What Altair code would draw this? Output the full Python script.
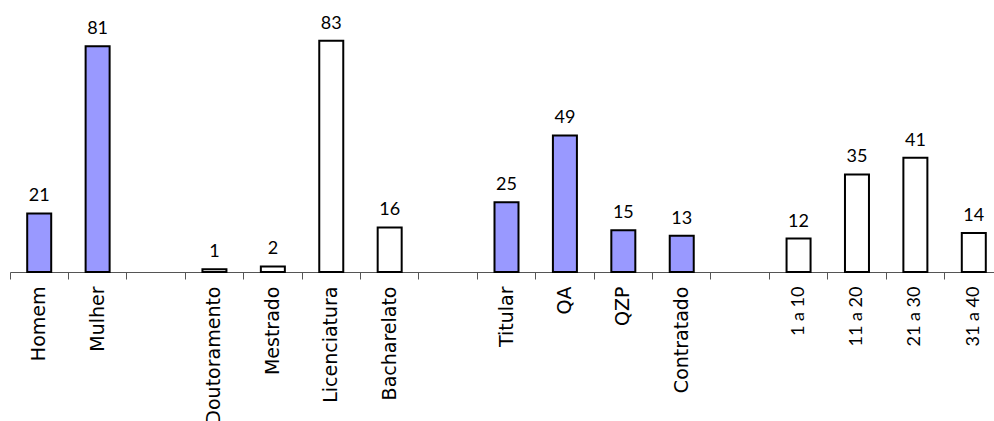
import altair as alt
import pandas as pd

# slot order (gaps are blank categories)
domain = ["Homem", "Mulher", " ", "Doutoramento", "Mestrado", "Licenciatura", "Bacharelato",
          "  ", "Titular", "QA", "QZP", "Contratado", "   ",
          "1 a 10", "11 a 20", "21 a 30", "31 a 40"]

categories = ["Homem", "Mulher", "Doutoramento", "Mestrado", "Licenciatura", "Bacharelato",
              "Titular", "QA", "QZP", "Contratado", "1 a 10", "11 a 20", "21 a 30", "31 a 40"]
values = [21, 81, 1, 2, 83, 16, 25, 49, 15, 13, 12, 35, 41, 14]
groups = ["blue", "blue", "white", "white", "white", "white",
          "blue", "blue", "blue", "blue", "white", "white", "white", "white"]

df = pd.DataFrame({"cat": categories, "value": values, "group": groups})

num_test = "indexof(['1 a 10','11 a 20','21 a 30','31 a 40'], datum.value) >= 0"

xscale = alt.Scale(domain=domain, range=[0, 993], paddingInner=0, paddingOuter=0)
yscale = alt.Scale(domain=[0, 94])

bars = alt.Chart(df).mark_bar(width=24, stroke="black", strokeWidth=2).encode(
    x=alt.X("cat:N", sort=domain, scale=xscale,
            axis=alt.Axis(title=None, labels=False, bandPosition=0, tickSize=7,
                          domainColor="#555555", tickColor="#555555", domainWidth=1,
                          tickWidth=1, orient="bottom", grid=False)),
    y=alt.Y("value:Q", scale=yscale, axis=None),
    fill=alt.Fill("group:N", scale=alt.Scale(domain=["blue", "white"],
                                             range=["#9999FF", "#FFFFFF"]), legend=None),
)

text = alt.Chart(df).mark_text(baseline="alphabetic", dy=-12, font="Lato", fontSize=18,
                               color="black").encode(
    x=alt.X("cat:N", sort=domain, scale=xscale,
            axis=alt.Axis(title=None, labelAngle=-90, ticks=False, domain=False,
                          labelPadding=14, orient="bottom", grid=False,
                          labelColor="black",
                          labelFont=alt.expr(f"{num_test} ? 'Lato' : 'DejaVu Sans'"),
                          labelFontSize=alt.expr(f"{num_test} ? 18 : 19"),
                          labelLimit=300)),
    y=alt.Y("value:Q", scale=yscale, axis=None),
    text=alt.Text("value:Q"),
)

chart = alt.layer(bars, text).resolve_axis(x="independent").properties(
    width=984, height=262,
    autosize=alt.AutoSizeParams(type="none"),
    padding={"left": 10, "top": 10, "right": 0, "bottom": 149},
    background="white",
).configure_view(stroke=None)

chart.save("out.html", embed_options={"renderer": "svg", "actions": False})
